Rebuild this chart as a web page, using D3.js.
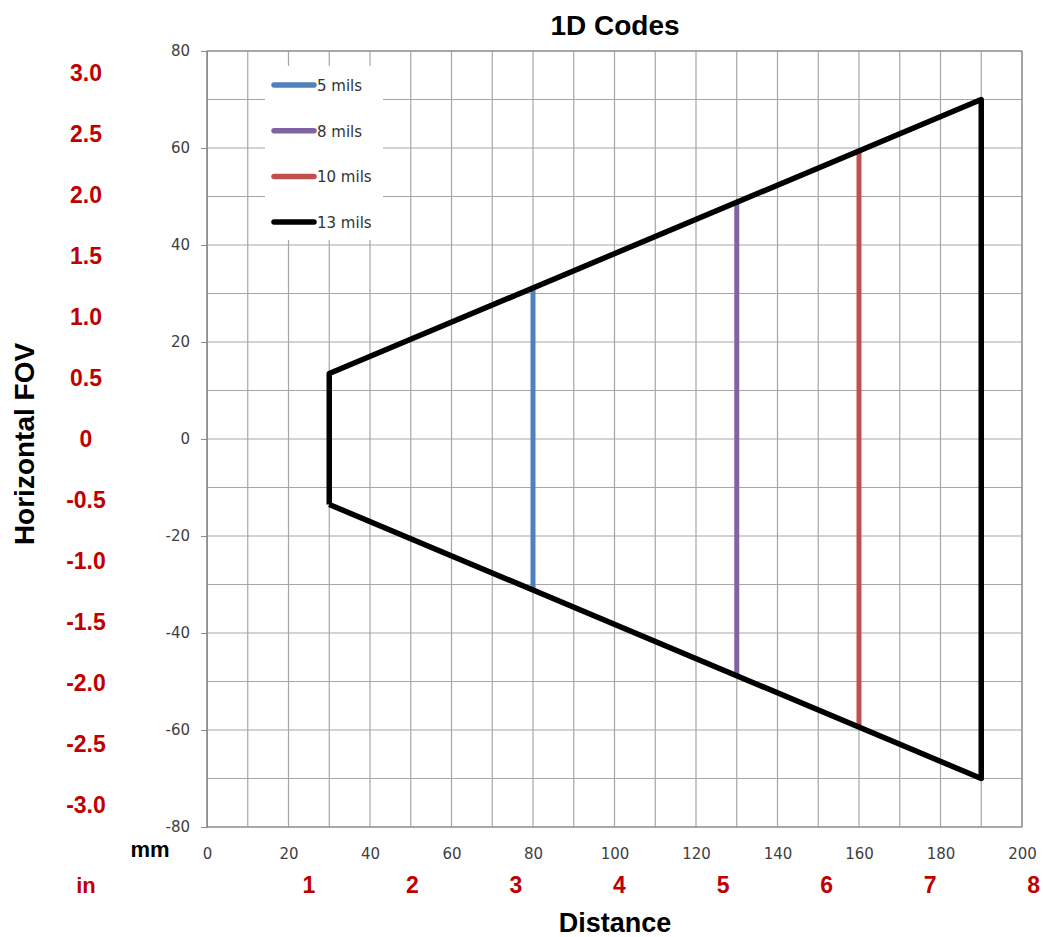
<!DOCTYPE html>
<html><head><meta charset="utf-8">
<script src="https://cdn.jsdelivr.net/npm/d3@7"></script>
<style>body{margin:0;background:#fff}</style>
</head><body>
<script>
// Data
const outlineX = [30, 30, 190, 190, 30];          // mm
const outlineY = [-13.5, 13.5, 70, -70, -13.5];    // mm
const seriesNames = ["5 mils", "8 mils", "10 mils", "13 mils"];
const seriesColors = ["#4f81bd", "#8064a2", "#c0504d", "#000000"];
const seriesDist = [80, 130, 160, 190];
const seriesHalfWidth = [31.2, 48.8, 59.4, 70];
const xTicks = [0, 20, 40, 60, 80, 100, 120, 140, 160, 180, 200];
const yTicks = [80, 60, 40, 20, 0, -20, -40, -60, -80];
const inchTicks = [1, 2, 3, 4, 5, 6, 7, 8];
const inchYTicks = ["3.0", "2.5", "2.0", "1.5", "1.0", "0.5", "0", "-0.5", "-1.0", "-1.5", "-2.0", "-2.5", "-3.0"];

const W = 1043, H = 937;
const svg = d3.select("body").append("svg").attr("width", W).attr("height", H);
const x = d3.scaleLinear().domain([0, 200]).range([207, 1022]);
const y = d3.scaleLinear().domain([-80, 80]).range([827, 51]);
const tickFont = "DejaVu Sans, sans-serif";
const boldFont = "Liberation Sans, Arial, sans-serif";

// grid
const g = svg.append("g");
g.selectAll(".vg").data(d3.range(0, 201, 10)).enter().append("line")
  .attr("x1", d => x(d)).attr("x2", d => x(d)).attr("y1", y(80)).attr("y2", y(-80))
  .attr("stroke", "#a6a6a6").attr("stroke-width", 1.2);
g.selectAll(".hg").data(d3.range(-80, 81, 10)).enter().append("line")
  .attr("x1", x(0)).attr("x2", x(200)).attr("y1", d => y(d)).attr("y2", d => y(d))
  .attr("stroke", "#a6a6a6").attr("stroke-width", 1.2);
g.append("rect").attr("x", x(0)).attr("y", y(80)).attr("width", x(200) - x(0)).attr("height", y(-80) - y(80))
  .attr("fill", "none").attr("stroke", "#8c8c8c").attr("stroke-width", 1.2);

// y axis
const yAxis = d3.axisLeft(y).tickValues(yTicks).tickFormat(d => String(d)).tickSize(6).tickPadding(11);
const ya = svg.append("g").attr("transform", `translate(${x(0)},0)`).call(yAxis);
ya.select(".domain").attr("stroke", "#8c8c8c");
ya.selectAll(".tick line").attr("stroke", "#8c8c8c");
ya.selectAll("text").style("font-family", tickFont).style("font-size", "15px").attr("fill", "#404040");

// x axis
const xAxis = d3.axisBottom(x).tickValues(xTicks).tickFormat(d => String(d)).tickSize(0).tickPadding(21);
const xa = svg.append("g").attr("transform", `translate(0,${y(-80)})`).call(xAxis);
xa.select(".domain").remove();
xa.selectAll("text").style("font-family", tickFont).style("font-size", "15px").attr("fill", "#404040");

// legend background
svg.append("rect").attr("x", 265).attr("y", 66).attr("width", 118).attr("height", 174).attr("fill", "#fff");

// vertical series lines
svg.selectAll(".sl").data(seriesNames.slice(0, 3)).enter().append("line")
  .attr("x1", (d, i) => x(seriesDist[i])).attr("x2", (d, i) => x(seriesDist[i]))
  .attr("y1", (d, i) => y(seriesHalfWidth[i])).attr("y2", (d, i) => y(-seriesHalfWidth[i]))
  .attr("stroke", (d, i) => seriesColors[i]).attr("stroke-width", 5);

// black outline
const pts = outlineX.map((v, i) => [x(v), y(outlineY[i])]);
svg.append("path").attr("d", d3.line()(pts)).attr("fill", "none")
  .attr("stroke", "#000").attr("stroke-width", 5.5).attr("stroke-linejoin", "round");

// legend
const lg = svg.selectAll(".lg").data(seriesNames).enter().append("g")
  .attr("transform", (d, i) => `translate(0,${85 + i * 45.7})`);
lg.append("line").attr("x1", 274).attr("x2", 314).attr("y1", 0).attr("y2", 0)
  .attr("stroke", (d, i) => seriesColors[i]).attr("stroke-width", 5.5).attr("stroke-linecap", "round");
lg.append("text").attr("x", 317).attr("y", 6).text(d => d)
  .style("font-family", tickFont).style("font-size", "15px").attr("fill", "#333");

// title & labels
svg.append("text").attr("x", 615).attr("y", 35).attr("text-anchor", "middle")
  .attr("font-family", boldFont).attr("font-weight", "bold").attr("font-size", 28).text("1D Codes");
svg.append("text").attr("x", 615).attr("y", 932).attr("text-anchor", "middle")
  .attr("font-family", boldFont).attr("font-weight", "bold").attr("font-size", 27).text("Distance");
svg.append("text").attr("transform", "translate(34,444) rotate(-90)").attr("text-anchor", "middle")
  .attr("font-family", boldFont).attr("font-weight", "bold").attr("font-size", 28).text("Horizontal FOV");
svg.append("text").attr("x", 150).attr("y", 857).attr("text-anchor", "middle")
  .attr("font-family", boldFont).attr("font-weight", "bold").attr("font-size", 22).text("mm");
svg.append("text").attr("x", 86).attr("y", 893).attr("text-anchor", "middle").attr("fill", "#c00000")
  .attr("font-family", boldFont).attr("font-weight", "bold").attr("font-size", 22).text("in");

// inch x labels
svg.selectAll(".ix").data(inchTicks).enter().append("text")
  .attr("x", d => x(d * 25.4) - 1.5).attr("y", 893).attr("text-anchor", "middle").attr("fill", "#c00000")
  .attr("font-family", boldFont).attr("font-weight", "bold").attr("font-size", 23).text(d => d);

// inch y labels
svg.selectAll(".iy").data(inchYTicks).enter().append("text")
  .attr("x", 86).attr("y", d => y(+d * 25.4 * 0.99) + 8).attr("text-anchor", "middle").attr("fill", "#c00000")
  .attr("font-family", boldFont).attr("font-weight", "bold").attr("font-size", 23).text(d => d);
</script>
</body></html>
